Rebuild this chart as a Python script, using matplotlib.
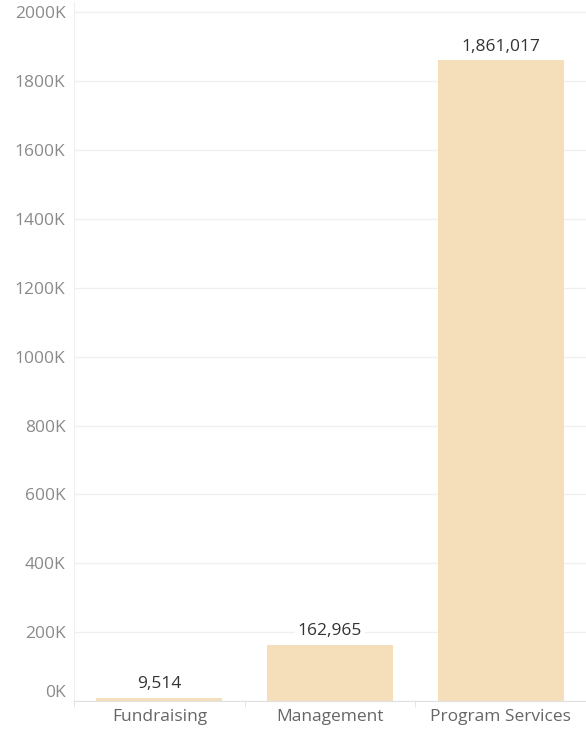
import matplotlib
matplotlib.use("Agg")
import matplotlib.pyplot as plt
from matplotlib.ticker import FuncFormatter, FixedLocator
import numpy as np

categories = ["Fundraising", "Management", "Program Services"]
values = [9514, 162965, 1861017]
yticks = np.arange(0, 2000001, 200000)

plt.rcParams["font.family"] = ["Open Sans", "DejaVu Sans"]

fig = plt.figure(figsize=(5.86, 7.3), dpi=100)
ax = fig.add_axes([74/586, 1 - 701/730, 512/586, 699/730])

x = np.arange(len(categories))
ax.bar(x, values, width=0.74, color="#f5dfbb", zorder=2)

for xi, v in zip(x, values):
    ax.annotate(f"{v:,}", (xi, v), xytext=(0, 4), textcoords="offset points",
                ha="center", va="bottom", fontsize=12.5, color="#333333", zorder=3,
                bbox=dict(boxstyle="square,pad=0.15", fc="white", ec="none"))

ax.set_xlim(-0.5, len(categories) - 0.5)
ax.set_ylim(0, 2030000)
ax.set_yticks(yticks)
ax.yaxis.set_major_formatter(FuncFormatter(lambda v, p: f"{v/1000:.0f}K"))
ax.set_xticks(x)
ax.set_xticklabels(categories)
ax.xaxis.set_minor_locator(FixedLocator([-0.5, 0.5, 1.5]))

ax.grid(axis="y", color="#f0f0f0", lw=1, zorder=0)
for s in ["top", "right"]:
    ax.spines[s].set_visible(False)
ax.spines["left"].set_color("#efefef")
ax.spines["bottom"].set_color("#e0e0e0")

ax.tick_params(axis="y", length=0, labelsize=12.5, labelcolor="#8a8a8a", pad=6)
ax.tick_params(axis="x", which="major", length=0, labelsize=12.5, labelcolor="#666666", pad=6)
ax.tick_params(axis="x", which="minor", length=4, color="#e0e0e0")

lab0 = ax.get_yticklabels()[0]
lab0.set_va("bottom")

fig.savefig("out.png", dpi=100)
